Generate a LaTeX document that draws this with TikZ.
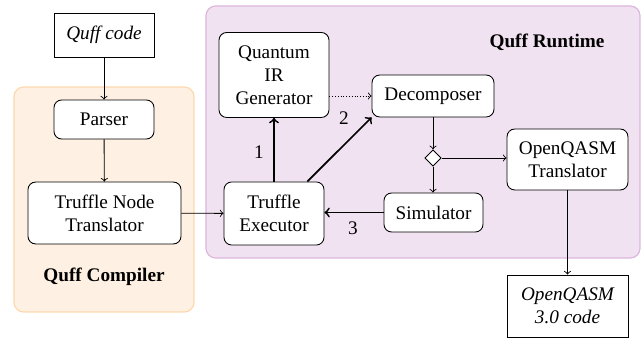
\documentclass[tikz,border=0pt]{standalone}
\usepackage{fontspec}
\setmainfont{Liberation Serif}
\usetikzlibrary{shapes.geometric}
\definecolor{compfill}{HTML}{FEF0E2}
\definecolor{compline}{HTML}{FDD8AE}
\definecolor{runfill}{HTML}{F0E2F0}
\definecolor{runline}{HTML}{DDB5DD}
\tikzset{
  blk/.style={draw, rounded corners=4pt, fill=white, align=center, inner sep=1pt, line width=0.45pt},
  io/.style={draw, fill=white, align=center, inner sep=1pt, font=\itshape, line width=0.45pt},
  flow/.style={->, line width=0.45pt},
  heavy/.style={->, line width=0.9pt},
  grp/.style={rounded corners=5pt, line width=0.6pt},
  grplabel/.style={font=\bfseries},
  num/.style={inner sep=1pt}
}
\begin{document}
\begin{tikzpicture}[x=0.52pt, y=-0.52pt]
\useasboundingbox (0,0) rectangle (642,339);
% group backgrounds
\draw[grp, fill=compfill, draw=compline] (14,87) rectangle (194,312);
\draw[grp, fill=runfill, draw=runline] (206,6) rectangle (640,258);
\node[grplabel] (complbl) at (104,277) {Quff Compiler};
\node[grplabel] (runlbl) at (547,42) {Quff Runtime};
% nodes
\node[io, minimum width=52pt, minimum height=22.9pt] (src) at (104,35) {Quff code};
\node[blk, minimum width=52pt, minimum height=20.3pt] (parser) at (104,119.5) {Parser};
\node[blk, minimum width=79.6pt, minimum height=32.2pt] (tnt) at (104.5,213) {Truffle Node\\Translator};
\node[blk, minimum width=52pt, minimum height=32.8pt] (exec) at (274,213.5) {Truffle\\Executor};
\node[blk, minimum width=57.2pt, minimum height=44.2pt] (qir) at (274,75) {Quantum\\IR\\Generator};
\node[blk, minimum width=63.4pt, minimum height=21.8pt] (dec) at (433,96) {Decomposer};
\node[draw, diamond, fill=white, inner sep=0pt, minimum size=8.6pt, line width=0.45pt] (sw) at (433,158) {};
\node[blk, minimum width=51.5pt, minimum height=20.3pt] (sim) at (433.5,212.5) {Simulator};
\node[blk, minimum width=62.9pt, minimum height=31.7pt] (oqt) at (567.5,159.5) {OpenQASM\\Translator};
\node[io, minimum width=62.9pt, minimum height=32.2pt] (oqc) at (567.5,306) {OpenQASM\\3.0 code};
% connectors
\draw[flow] (src) -- (parser);
\draw[flow] (parser) -- (tnt);
\draw[flow] (tnt) -- (exec);
\draw[flow, densely dotted] (qir.east |- dec) -- (dec.west);
\draw[flow] (dec) -- (sw);
\draw[flow] (sw) -- (oqt.west |- sw);
\draw[flow] (sw) -- (sim.north -| sw);
\draw[flow] (oqt) -- (oqc);
\draw[heavy] (exec.north) -- (qir.south);
\draw[heavy] (exec.north east) ++(-17,0) coordinate (e2) -- (dec.south west);
\draw[heavy] (sim.west) -- (exec.east |- sim.west);
\node[num] (n1) at (259,152) {1};
\node[num] (n2) at (344,118) {2};
\node[num] (n3) at (353,228) {3};
\end{tikzpicture}
\end{document}
